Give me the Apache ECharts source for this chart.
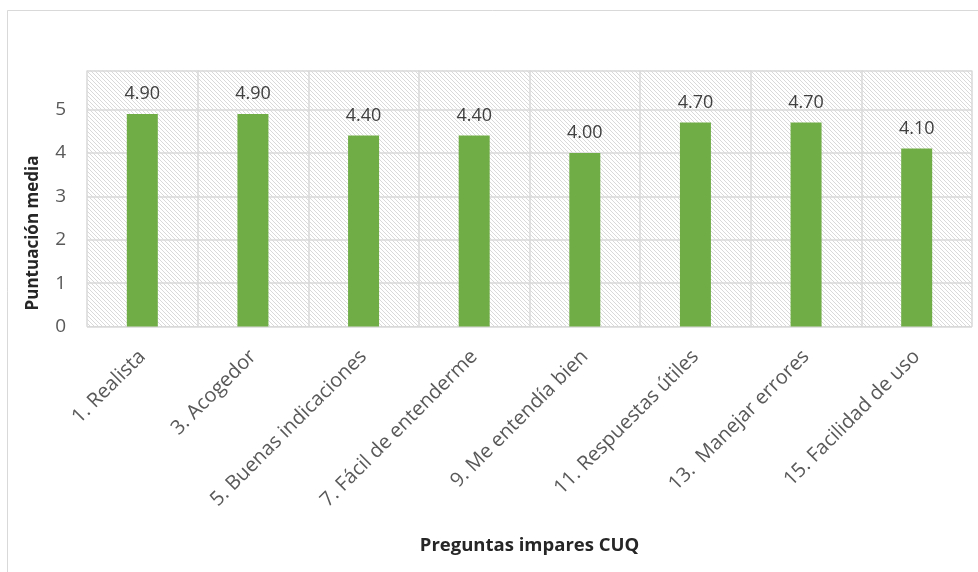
<!DOCTYPE html>
<html>
<head>
<meta charset="utf-8">
<script src="https://cdn.jsdelivr.net/npm/echarts@6/dist/echarts.min.js"></script>
<style>
html,body{margin:0;padding:0;background:#fff;}
#chart{width:978px;height:572px;}
</style>
</head>
<body>
<div id="chart"></div>
<script>
var categories=['1. Realista','3. Acogedor','5. Buenas indicaciones','7. Fácil de entenderme','9. Me entendía bien','11. Respuestas útiles','13.  Manejar errores','15. Facilidad de uso'];
var scores=[4.90,4.90,4.40,4.40,4.00,4.70,4.70,4.10];
var yTicks=[0,1,2,3,4,5];

// hatch pattern for the plot area
function hatch(){
	var c=document.createElement('canvas');
	c.width=4;c.height=4;
	var ctx=c.getContext('2d');
	ctx.fillStyle='#ffffff';
	ctx.fillRect(0,0,4,4);
	ctx.fillStyle='#d9d9d9';
	for(var i=0;i<4;i++){
		ctx.fillRect(i,i,1,1);
	}
	return c;
}

var font='"Open Sans"';
var chart=echarts.init(document.getElementById('chart'));
var option={
	backgroundColor:'#ffffff',
	animation:false,
	graphic:[
		{type:'polyline',shape:{points:[[7.5,572],[7.5,10.5],[978,10.5]]},style:{stroke:'#d9d9d9',lineWidth:1,fill:null}},
		{type:'text',x:33,y:233,rotation:Math.PI/2,style:{text:'Puntuación media',font:'bold 17px "Open Sans"',fill:'#262626',align:'center',verticalAlign:'middle'}}
	],
	grid:{left:87,right:6,top:70.5,bottom:245.5,show:true,borderWidth:0,
		backgroundColor:{image:hatch(),repeat:'repeat'}},
	xAxis:{
		type:'category',
		data:categories,
		axisLine:{lineStyle:{color:'#d9d9d9'}},
		axisTick:{show:false},
		splitLine:{show:true,lineStyle:{color:'#d9d9d9',width:1.5}},
		axisLabel:{rotate:45,interval:0,margin:27,color:'#595959',fontSize:20,fontFamily:font},
		name:'Preguntas impares CUQ',
		nameLocation:'middle',
		nameGap:210,
		nameTextStyle:{fontWeight:'bold',fontSize:18.5,color:'#262626',fontFamily:font}
	},
	yAxis:{
		type:'value',
		min:0,max:5.9,interval:1,
		axisLine:{show:false},
		axisTick:{show:false},
		splitLine:{show:true,lineStyle:{color:'#d9d9d9',width:1.5}},
		axisLabel:{color:'#595959',fontSize:19,fontFamily:font,margin:21,
			formatter:function(v){return yTicks.indexOf(v)>=0?String(v):'';}}
	},
	series:[{
		type:'bar',
		data:scores,
		barWidth:31,
		itemStyle:{color:'#70ad47'},
		label:{show:true,position:'top',distance:11,color:'#404040',fontSize:18,fontFamily:font,
			formatter:function(p){return p.value.toFixed(2);}}
	}]
};
chart.setOption(option);
</script>
</body>
</html>
